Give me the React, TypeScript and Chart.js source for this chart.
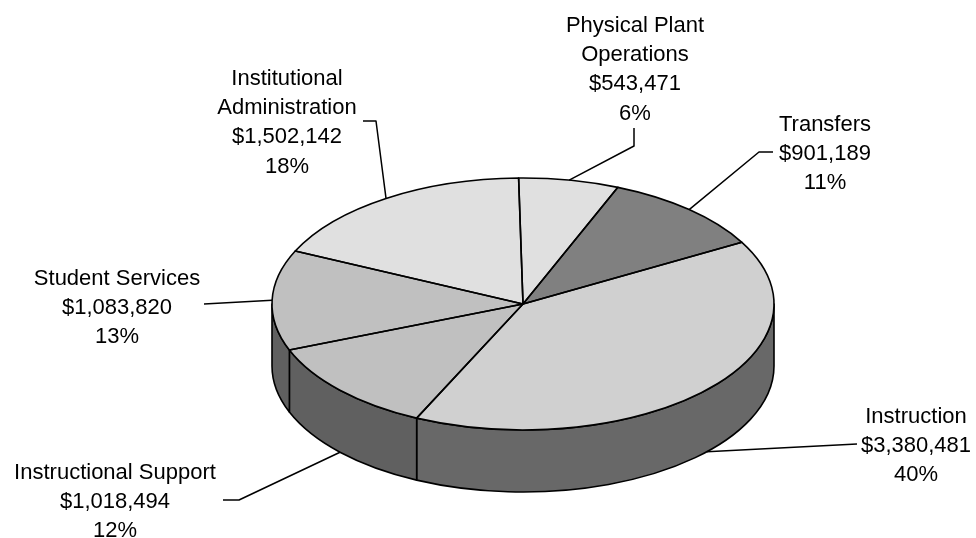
import { useEffect, useRef } from 'react';
import { Chart, registerables } from 'chart.js';

Chart.register(...registerables);

// ---- data ----
const CATEGORIES = [
  'Physical Plant\nOperations',
  'Transfers',
  'Instruction',
  'Instructional Support',
  'Student Services',
  'Institutional\nAdministration',
];
const VALUES = [543471, 901189, 3380481, 1018494, 1083820, 1502142];
const TOP_COLORS = ['#e0e0e0', '#808080', '#d0d0d0', '#c0c0c0', '#c0c0c0', '#e0e0e0'];
const WALL_COLORS = ['#707070', '#404040', '#686868', '#606060', '#606060', '#707070'];

// ---- layout (not data) ----
const TILT = 0.502;
const DEPTH = 62;
const RADIUS = 251;
const LINE_H = 29.2;
const FONT = '22px "Liberation Sans", Arial, sans-serif';
const LABEL_LAYOUT = [
  { x: 635, y: 32, path: [[634, 146], [634, 128]] },
  { x: 825, y: 131, path: [[759, 152], [773, 152]] },
  { x: 916, y: 423, path: [[857, 444]] },
  { x: 115, y: 479, path: [[239, 500], [223, 500]] },
  { x: 117, y: 285, path: [[204, 304]] },
  { x: 287, y: 85, path: [[376, 121], [363, 121]] },
];

const pie3d = {
  id: 'pie3d',
  beforeDatasetsDraw(chart: any) {
    const ctx = chart.ctx as CanvasRenderingContext2D;
    const arcs = chart.getDatasetMeta(0).data as any[];
    const cx = arcs[0].x, cy = arcs[0].y, r = arcs[0].outerRadius;
    const ry = r * TILT;
    ctx.save();
    ctx.lineWidth = 1.6;
    ctx.strokeStyle = '#000';
    ctx.lineJoin = 'round';
    arcs.forEach((arc, i) => {
      const a0 = arc.startAngle, a1 = arc.endAngle;
      for (const off of [-2 * Math.PI, 0, 2 * Math.PI]) {
        const s = Math.max(a0, off);
        const e = Math.min(a1, off + Math.PI);
        if (e > s) {
          ctx.beginPath();
          ctx.ellipse(cx, cy, r, ry, 0, s, e, false);
          ctx.ellipse(cx, cy + DEPTH, r, ry, 0, e, s, true);
          ctx.closePath();
          ctx.fillStyle = WALL_COLORS[i];
          ctx.fill();
          ctx.stroke();
        }
      }
    });
    ctx.restore();
    ctx.save();
    ctx.translate(cx, cy);
    ctx.scale(1, TILT);
    ctx.translate(-cx, -cy);
  },
  afterDatasetsDraw(chart: any) {
    const ctx = chart.ctx as CanvasRenderingContext2D;
    ctx.restore();
    const arcs = chart.getDatasetMeta(0).data as any[];
    const cx = arcs[0].x, cy = arcs[0].y, r = arcs[0].outerRadius;
    const ry = r * TILT;
    ctx.save();
    ctx.lineWidth = 1.6;
    ctx.strokeStyle = '#000';
    ctx.lineJoin = 'round';
    arcs.forEach((arc) => {
      ctx.beginPath();
      ctx.moveTo(cx, cy);
      ctx.ellipse(cx, cy, r, ry, 0, arc.startAngle, arc.endAngle, false);
      ctx.closePath();
      ctx.stroke();
    });

    const total = VALUES.reduce((a, b) => a + b, 0);
    ctx.font = FONT;
    ctx.fillStyle = '#000';
    ctx.textAlign = 'center';
    ctx.textBaseline = 'alphabetic';
    ctx.lineWidth = 1.5;
    arcs.forEach((arc, i) => {
      const mid = (arc.startAngle + arc.endAngle) / 2;
      let ax = cx + r * Math.cos(mid);
      let ay = cy + ry * Math.sin(mid);
      if (Math.sin(mid) > 0) ay += DEPTH;
      const lay = LABEL_LAYOUT[i];
      ctx.beginPath();
      ctx.moveTo(ax, ay);
      lay.path.forEach(([px, py]) => ctx.lineTo(px, py));
      ctx.stroke();
      const lines = [
        ...CATEGORIES[i].split('\n'),
        '$' + VALUES[i].toLocaleString('en-US'),
        Math.round((VALUES[i] / total) * 100) + '%',
      ];
      lines.forEach((t, k) => ctx.fillText(t, lay.x, lay.y + k * LINE_H));
    });
    ctx.restore();
  },
};

export default function App() {
  const ref = useRef<HTMLCanvasElement>(null);
  useEffect(() => {
    const chart = new Chart(ref.current as HTMLCanvasElement, {
      type: 'pie',
      data: {
        labels: CATEGORIES,
        datasets: [
          {
            data: VALUES,
            backgroundColor: TOP_COLORS,
            borderWidth: 0,
            hoverOffset: 0,
            clip: false,
          } as any,
        ],
      },
      options: {
        responsive: false,
        animation: false,
        events: [],
        rotation: -1,
        radius: RADIUS,
        layout: { padding: { left: 70, top: 70, right: 0, bottom: 0 } },
        plugins: { legend: { display: false }, tooltip: { enabled: false } },
      } as any,
      plugins: [pie3d],
    });
    return () => chart.destroy();
  }, []);
  return (
    <div style={{ position: 'absolute', left: 0, top: 0, width: 976, height: 538, background: '#fff' }}>
      <canvas ref={ref} width={976} height={538} style={{ display: 'block' }} />
    </div>
  );
}
